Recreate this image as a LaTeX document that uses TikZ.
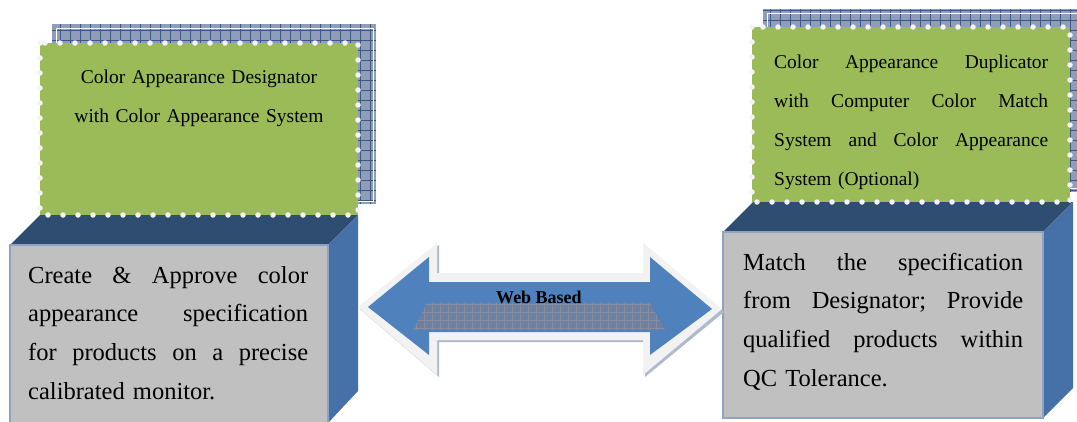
\documentclass[tikz,border=0pt]{standalone}
\usepackage{fontspec}
\setmainfont{Liberation Serif}
\definecolor{greenbox}{RGB}{155,187,89}
\definecolor{topnavy}{RGB}{47,77,112}
\definecolor{sideblue}{RGB}{70,113,168}
\definecolor{frontgray}{RGB}{192,192,192}
\definecolor{frontline}{RGB}{142,162,194}
\definecolor{gridfill}{RGB}{142,157,184}
\definecolor{gridline}{RGB}{62,88,134}
\definecolor{arrowblue}{RGB}{79,129,189}
\definecolor{arrowrim}{RGB}{242,242,242}
\definecolor{trapfill}{RGB}{108,128,162}
\definecolor{trapline}{RGB}{138,140,158}
\definecolor{dotwhite}{RGB}{244,244,244}
\newcommand\justline[2]{\leavevmode\hbox to #1{#2}}
\begin{document}
\begin{tikzpicture}[x=1pt,y=-1pt,
  gridshadow/.style={fill=gridfill},
  gridlines/.style={draw=gridline,line width=0.6pt},
  greenpanel/.style={fill=greenbox},
  dotrim/.style={draw=dotwhite,line width=5.5pt,dash pattern=on 0pt off 15pt,line cap=round},
  topface/.style={fill=topnavy},
  sideface/.style={fill=sideblue},
  frontface/.style={fill=frontgray,draw=frontline,line width=1.5pt},
  toptext/.style={font=\fontsize{19.5}{39}\selectfont,text width=274pt,inner sep=0pt},
  bodytext/.style={font=\fontsize{24.5}{38.8}\selectfont,text width=280pt,align=left,inner sep=0pt},
  webtext/.style={font=\bfseries\fontsize{18}{20}\selectfont,inner sep=0pt}]
\useasboundingbox (0,0) rectangle (1077,421);
\fill[white] (0,0) rectangle (1077,421);

% ---------- left group ----------
\fill[gridshadow] (52,24) rectangle (376,204);
\draw[gridlines,step=10pt] (52,24) grid (376,204);
\draw[white,line width=0.8pt] (56,28) rectangle (373,201);
\fill[topface] (10,245) -- (40,215) -- (358,215) -- (328,245) -- cycle;
\fill[sideface] (328,245) -- (358,215) -- (358,391) -- (328,423) -- cycle;
\draw[frontface] (10,245) rectangle (328,425);
\fill[greenpanel] (40,43) rectangle (358,215);
\draw[dotrim] (40,43) rectangle (358,215);
\node[toptext,align=center,anchor=base] (designator) at (199,83)
  {Color Appearance Designator\\with Color Appearance System};
\node[bodytext,anchor=base west] (create) at (28,283)
  {\justline{280pt}{Create\hfill\&\hfill Approve\hfill color}\\
   \justline{280pt}{appearance\hfill specification}\\
   \justline{280pt}{for\hfill products\hfill on\hfill a\hfill precise}\\
   calibrated monitor.};

% ---------- right group ----------
\fill[gridshadow] (763,9) rectangle (1082,192);
\draw[gridlines,step=10pt] (763,9) grid (1082,192);
\draw[white,line width=0.8pt] (767,13) rectangle (1090,188);
\fill[topface] (723,232) -- (753,202) -- (1073,202) -- (1043,232) -- cycle;
\fill[sideface] (1043,232) -- (1073,202) -- (1073,388) -- (1043,418) -- cycle;
\draw[frontface] (723,232) rectangle (1043,418);
\fill[greenpanel] (752,27) rectangle (1070,202);
\draw[dotrim] (752,27) rectangle (1070,202);
\node[toptext,anchor=base west] (duplicator) at (774,68)
  {\justline{274pt}{Color\hfill Appearance\hfill Duplicator}\\
   \justline{274pt}{with\hfill Computer\hfill Color\hfill Match}\\
   \justline{274pt}{System\hfill and\hfill Color\hfill Appearance}\\
   System (Optional)};
\node[bodytext,anchor=base west] (match) at (743,270)
  {\justline{280pt}{Match\hfill the\hfill specification}\\
   \justline{280pt}{from\hfill Designator;\hfill Provide}\\
   \justline{280pt}{qualified\hfill products\hfill within}\\
   QC Tolerance.};

% ---------- double arrow ----------
\fill[gridfill!70] (360,309) -- (439,245) -- (439,275) -- (645,275) -- (645,245)
  -- (724,312) -- (645,377) -- (645,342) -- (439,342) -- (439,377) -- cycle;
\fill[arrowrim] (358,307) -- (437,243) -- (437,273) -- (643,273) -- (643,243)
  -- (722,309) -- (643,375) -- (643,340) -- (437,340) -- (437,375) -- cycle;
\fill[arrowblue] (368,307) -- (429,257) -- (429,282) -- (650,282) -- (650,257)
  -- (712,309) -- (650,355) -- (650,332) -- (429,332) -- (429,355) -- cycle;
\fill[trapfill] (427,303) -- (650,303) -- (665,330) -- (413,330) -- cycle;
\begin{scope}
\clip (427,303) -- (650,303) -- (665,330) -- (413,330) -- cycle;
\draw[trapline,line width=0.5pt,step=8pt] (410,300) grid (670,332);
\end{scope}
\node[webtext,anchor=base] (web) at (539,303) {Web Based};
\end{tikzpicture}
\end{document}
